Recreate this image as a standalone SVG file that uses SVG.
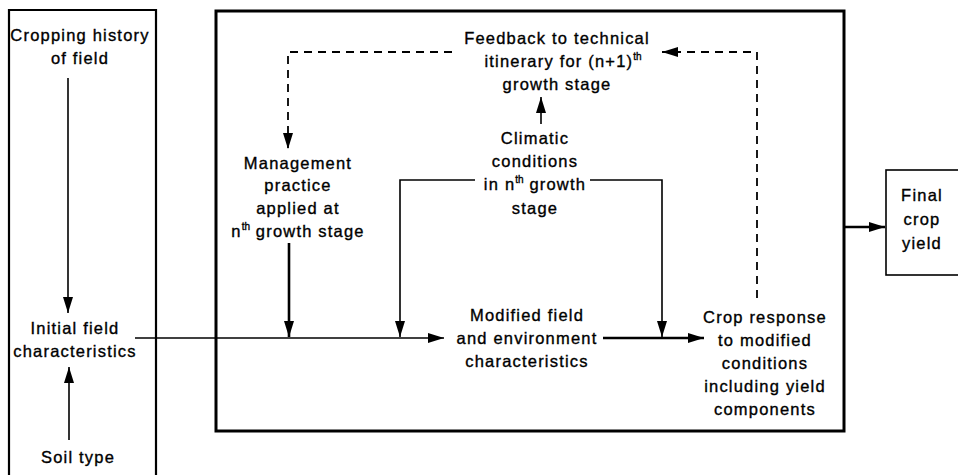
<svg xmlns="http://www.w3.org/2000/svg" width="958" height="475" viewBox="0 0 958 475">
<style>
text{font-family:"Liberation Sans",Arial,sans-serif;font-size:16.5px;letter-spacing:1.2px;fill:#000;stroke:#000;stroke-width:0.35;text-anchor:middle}
.sup{font-size:10px;letter-spacing:0}
.box{fill:none;stroke:#000}
.ln{fill:none;stroke:#000;stroke-width:1.6}
.thk{fill:none;stroke:#000;stroke-width:2.6}
.dash{fill:none;stroke:#000;stroke-width:1.8;stroke-dasharray:8 6}
</style>
<defs>
<marker id="ah" markerUnits="userSpaceOnUse" markerWidth="16" markerHeight="10" refX="16" refY="5" orient="auto">
<path d="M0,0 L16,5 L0,10 z" fill="#000"/>
</marker>
</defs>
<g id="frames">
<path class="box" style="stroke-width:2.2" d="M9,480 V10 H156 V480"/>
<rect class="box" style="stroke-width:3" x="216" y="11" width="628" height="420"/>
</g>
<g id="connectors">
<line class="ln" x1="68" y1="78" x2="68" y2="313" marker-end="url(#ah)"/>
<line class="ln" x1="69" y1="440" x2="69" y2="367" marker-end="url(#ah)"/>
<line class="ln" x1="135" y1="338" x2="444" y2="338" marker-end="url(#ah)"/>
<line class="thk" x1="289" y1="243" x2="289" y2="337" marker-end="url(#ah)"/>
<polyline class="ln" points="475,180 400,180 400,337" marker-end="url(#ah)"/>
<polyline class="ln" points="590,180 662,180 662,337" marker-end="url(#ah)"/>
<line class="ln" x1="541" y1="124" x2="541" y2="97" marker-end="url(#ah)"/>
<line class="thk" x1="603" y1="338" x2="704" y2="338" marker-end="url(#ah)"/>
<polyline class="dash" points="757,298 757,52 662,52" marker-end="url(#ah)"/>
<polyline class="dash" points="452,52 288,52 288,149" marker-end="url(#ah)"/>
<line class="thk" x1="845" y1="227" x2="885" y2="227" marker-end="url(#ah)"/>
</g>
<g id="cropping-history">
<text x="80" y="41">Cropping history</text>
<text x="80" y="64">of field</text>
</g>
<g id="initial-field">
<text x="75" y="334">Initial field</text>
<text x="75" y="357">characteristics</text>
</g>
<g id="soil-type">
<text x="78" y="463">Soil type</text>
</g>
<g id="feedback">
<text x="557" y="44">Feedback to technical</text>
<text x="563" y="67">itinerary for (n+1)<tspan class="sup" dy="-7">th</tspan></text>
<text x="557" y="90">growth stage</text>
</g>
<g id="management">
<text x="298" y="169">Management</text>
<text x="298" y="191">practice</text>
<text x="298" y="214">applied at</text>
<text x="298" y="237">n<tspan class="sup" dy="-7">th</tspan><tspan dy="7"> growth stage</tspan></text>
</g>
<g id="climatic">
<text x="535" y="144">Climatic</text>
<text x="535" y="167">conditions</text>
<text x="535" y="190">in n<tspan class="sup" dy="-7">th</tspan><tspan dy="7"> growth</tspan></text>
<text x="535" y="214">stage</text>
</g>
<g id="modified">
<text x="527" y="321">Modified field</text>
<text x="527" y="344">and environment</text>
<text x="527" y="367">characteristics</text>
</g>
<g id="crop-response">
<text x="765" y="323">Crop response</text>
<text x="765" y="346">to modified</text>
<text x="765" y="369">conditions</text>
<text x="765" y="392">including yield</text>
<text x="765" y="415">components</text>
</g>
<g id="final-yield">
<rect class="box" style="stroke-width:1.6" x="886" y="170" width="80" height="105"/>
<text x="922" y="201">Final</text>
<text x="922" y="225">crop</text>
<text x="922" y="249">yield</text>
</g>
</svg>
